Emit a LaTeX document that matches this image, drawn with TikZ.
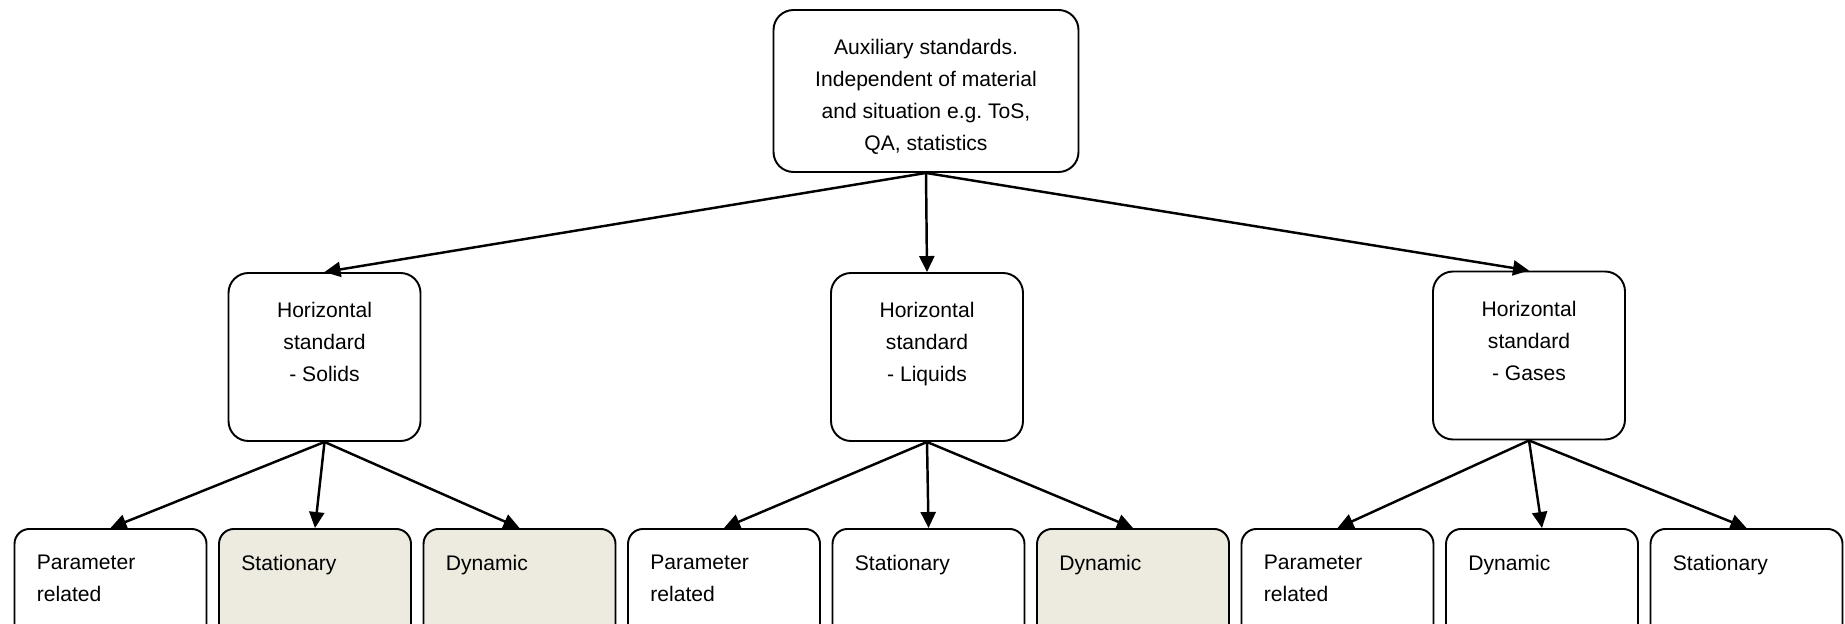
\documentclass[tikz,border=0pt]{standalone}
\usepackage{fontspec}
\setmainfont{Liberation Sans}
\usetikzlibrary{arrows.meta}
\definecolor{boxbeige}{RGB}{237,235,224}

\tikzset{
  box/.style={draw, line width=1.1pt, rounded corners=0.4cm, inner sep=0pt},
  arr/.style={line width=1.4pt, -{Triangle[length=0.32cm,width=0.3cm]}},
  txt/.style={inner sep=0pt, font=\fontsize{12}{18.2}\selectfont}
}

\begin{document}
\begin{tikzpicture}
\useasboundingbox (0,0) rectangle (36.9,-12.48);
\clip (0,0) rectangle (36.9,-12.48);

% Top box
\node[box, minimum width=6.1cm, minimum height=3.24cm] (aux) at (18.52,-1.82) {};
\node[txt, align=center] (aux-t) at ([yshift=-0.12cm]aux.center)
  {Auxiliary standards.\\Independent of material\\and situation e.g.\ ToS,\\QA, statistics};

% Horizontal standards
\foreach \x/\y/\nm/\kind in {6.49/-7.14/sol/Solids, 18.54/-7.14/liq/Liquids, 30.58/-7.11/gas/Gases} {
  \node[box, minimum width=3.84cm, minimum height=3.36cm] (\nm) at (\x,\y) {};
  \node[txt, align=center, anchor=north] (\nm-t) at ([yshift=-0.6cm]\nm.north) {Horizontal\\standard\\- \kind};
}

% Bottom row
\foreach \i/\nm/\word/\fl in {0/sp/{Parameter\\related}/white, 1/ss/Stationary/boxbeige, 2/sd/Dynamic/boxbeige,
                              3/lp/{Parameter\\related}/white, 4/ls/Stationary/white, 5/ld/Dynamic/boxbeige,
                              6/gp/{Parameter\\related}/white, 7/gd/Dynamic/white, 8/gs/Stationary/white} {
  \node[box, rounded corners=0.3cm, fill=\fl, minimum width=3.84cm, minimum height=2.6cm, anchor=north] (\nm) at (2.21+4.09*\i,-10.56) {};
  \node[txt, align=left, anchor=north west] (\nm-t) at ([xshift=0.46cm,yshift=-0.54cm]\nm.north west) {\word};
}

% Arrows
\foreach \nm in {sol,liq,gas}
  \draw[arr] (aux.south) -- (\nm.north);

\foreach \a/\b in {sol/sp, sol/ss, sol/sd, liq/lp, liq/ls, liq/ld, gas/gp, gas/gd, gas/gs}
  \draw[arr] (\a.south) -- (\b.north);

\end{tikzpicture}
\end{document}
